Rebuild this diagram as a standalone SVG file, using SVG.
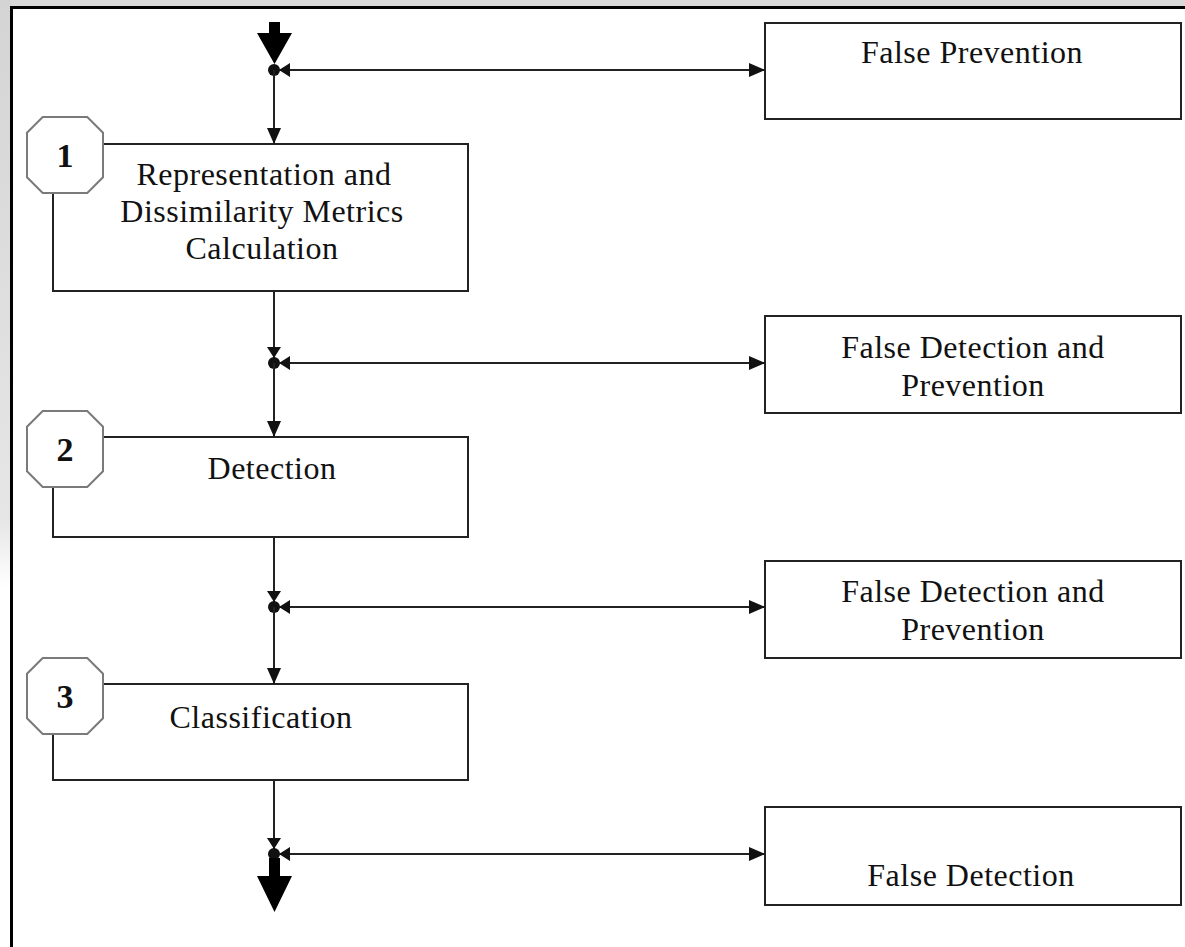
<svg xmlns="http://www.w3.org/2000/svg" width="1185" height="947" viewBox="0 0 1185 947">
  <defs>
    <linearGradient id="leftbg" x1="0" y1="0" x2="0" y2="1">
      <stop offset="0" stop-color="#d4d4d4"/>
      <stop offset="0.55" stop-color="#e6e6e6"/>
      <stop offset="0.62" stop-color="#ffffff"/>
      <stop offset="1" stop-color="#ffffff"/>
    </linearGradient>
    <marker id="arr" viewBox="0 0 16 14" refX="16" refY="7" markerWidth="16" markerHeight="14" markerUnits="userSpaceOnUse" orient="auto-start-reverse">
      <path d="M0,0 L16,7 L0,14 z" fill="#111"/>
    </marker>
    <marker id="tick" viewBox="0 0 11 14" refX="11" refY="7" markerWidth="11" markerHeight="14" markerUnits="userSpaceOnUse" orient="auto-start-reverse">
      <path d="M0,0 L11,7 L0,14 z" fill="#111"/>
    </marker>
  </defs>
  <style>
    .box { fill: #ffffff; stroke: #222222; stroke-width: 2; }
    .oct { fill: #ffffff; stroke: #7a7a7a; stroke-width: 2; }
    .lbl { font-family: "Liberation Serif", "Times New Roman", serif; font-size: 32px; letter-spacing: 0.5px; fill: #111111; text-anchor: middle; }
    .num { font-family: "Liberation Serif", "Times New Roman", serif; font-size: 34px; font-weight: bold; fill: #111111; text-anchor: middle; }
    .ln { stroke: #222222; stroke-width: 2; fill: none; }
    .dot { fill: #111111; }
    .big { fill: #000000; }
  </style>

  <!-- background outside frame -->
  <rect x="0" y="0" width="1185" height="947" fill="#ffffff"/>
  <rect x="0" y="0" width="1185" height="7" fill="#d9d9d9"/>
  <rect x="0" y="0" width="11" height="947" fill="url(#leftbg)"/>
  <path d="M11.5,947 V7.5 H1185" fill="none" stroke="#000000" stroke-width="3"/>

  <!-- left process boxes -->
  <g id="step1">
    <rect class="box" x="53" y="144" width="415" height="147"/>
    <polygon class="oct" points="42.7,117 87.3,117 103,132.7 103,177.3 87.3,193 42.7,193 27,177.3 27,132.7"/>
    <text class="num" x="65" y="167">1</text>
    <text class="lbl" x="264" y="185">Representation and</text>
    <text class="lbl" x="262" y="222">Dissimilarity Metrics</text>
    <text class="lbl" x="262" y="259">Calculation</text>
  </g>
  <g id="step2">
    <rect class="box" x="53" y="437" width="415" height="100"/>
    <polygon class="oct" points="42.7,411 87.3,411 103,426.7 103,471.3 87.3,487 42.7,487 27,471.3 27,426.7"/>
    <text class="num" x="65" y="461">2</text>
    <text class="lbl" x="272" y="479">Detection</text>
  </g>
  <g id="step3">
    <rect class="box" x="53" y="684" width="415" height="96"/>
    <polygon class="oct" points="42.7,658 87.3,658 103,673.7 103,718.3 87.3,734 42.7,734 27,718.3 27,673.7"/>
    <text class="num" x="65" y="708">3</text>
    <text class="lbl" x="261" y="728">Classification</text>
  </g>

  <!-- right side boxes -->
  <g id="false-prevention">
    <rect class="box" x="765" y="23" width="416" height="96"/>
    <text class="lbl" x="972" y="63">False Prevention</text>
  </g>
  <g id="false-detection-prevention-1">
    <rect class="box" x="765" y="316" width="416" height="97"/>
    <text class="lbl" x="973" y="358">False Detection and</text>
    <text class="lbl" x="973" y="396">Prevention</text>
  </g>
  <g id="false-detection-prevention-2">
    <rect class="box" x="765" y="561" width="416" height="97"/>
    <text class="lbl" x="973" y="602">False Detection and</text>
    <text class="lbl" x="973" y="640">Prevention</text>
  </g>
  <g id="false-detection">
    <rect class="box" x="765" y="807" width="416" height="98"/>
    <text class="lbl" x="971" y="886">False Detection</text>
  </g>

  <!-- connectors -->
  <g id="connectors">
    <!-- top entry arrow -->
    <polygon class="big" points="269,22 280,22 280,33 292,33 274.5,64 257,33 269,33"/>
    <!-- junction 1 -->
    <circle class="dot" cx="274" cy="70" r="6"/>
    <line class="ln" x1="274" y1="70" x2="274" y2="144" marker-end="url(#arr)"/>
    <line class="ln" x1="279" y1="70" x2="765" y2="70" marker-start="url(#tick)" marker-end="url(#arr)"/>

    <!-- junction 2 -->
    <line class="ln" x1="274" y1="291" x2="274" y2="358" marker-end="url(#tick)"/>
    <circle class="dot" cx="274" cy="363" r="6"/>
    <line class="ln" x1="274" y1="363" x2="274" y2="437" marker-end="url(#arr)"/>
    <line class="ln" x1="279" y1="363" x2="765" y2="363" marker-start="url(#tick)" marker-end="url(#arr)"/>

    <!-- junction 3 -->
    <line class="ln" x1="274" y1="537" x2="274" y2="602" marker-end="url(#tick)"/>
    <circle class="dot" cx="274" cy="607" r="6"/>
    <line class="ln" x1="274" y1="607" x2="274" y2="684" marker-end="url(#arr)"/>
    <line class="ln" x1="279" y1="607" x2="765" y2="607" marker-start="url(#tick)" marker-end="url(#arr)"/>

    <!-- junction 4 -->
    <line class="ln" x1="274" y1="780" x2="274" y2="849" marker-end="url(#tick)"/>
    <circle class="dot" cx="274" cy="854" r="6"/>
    <line class="ln" x1="279" y1="854" x2="765" y2="854" marker-start="url(#tick)" marker-end="url(#arr)"/>
    <!-- bottom exit arrow -->
    <polygon class="big" points="269,858 280,858 280,876 292,876 274.5,912 257,876 269,876"/>
  </g>
</svg>
